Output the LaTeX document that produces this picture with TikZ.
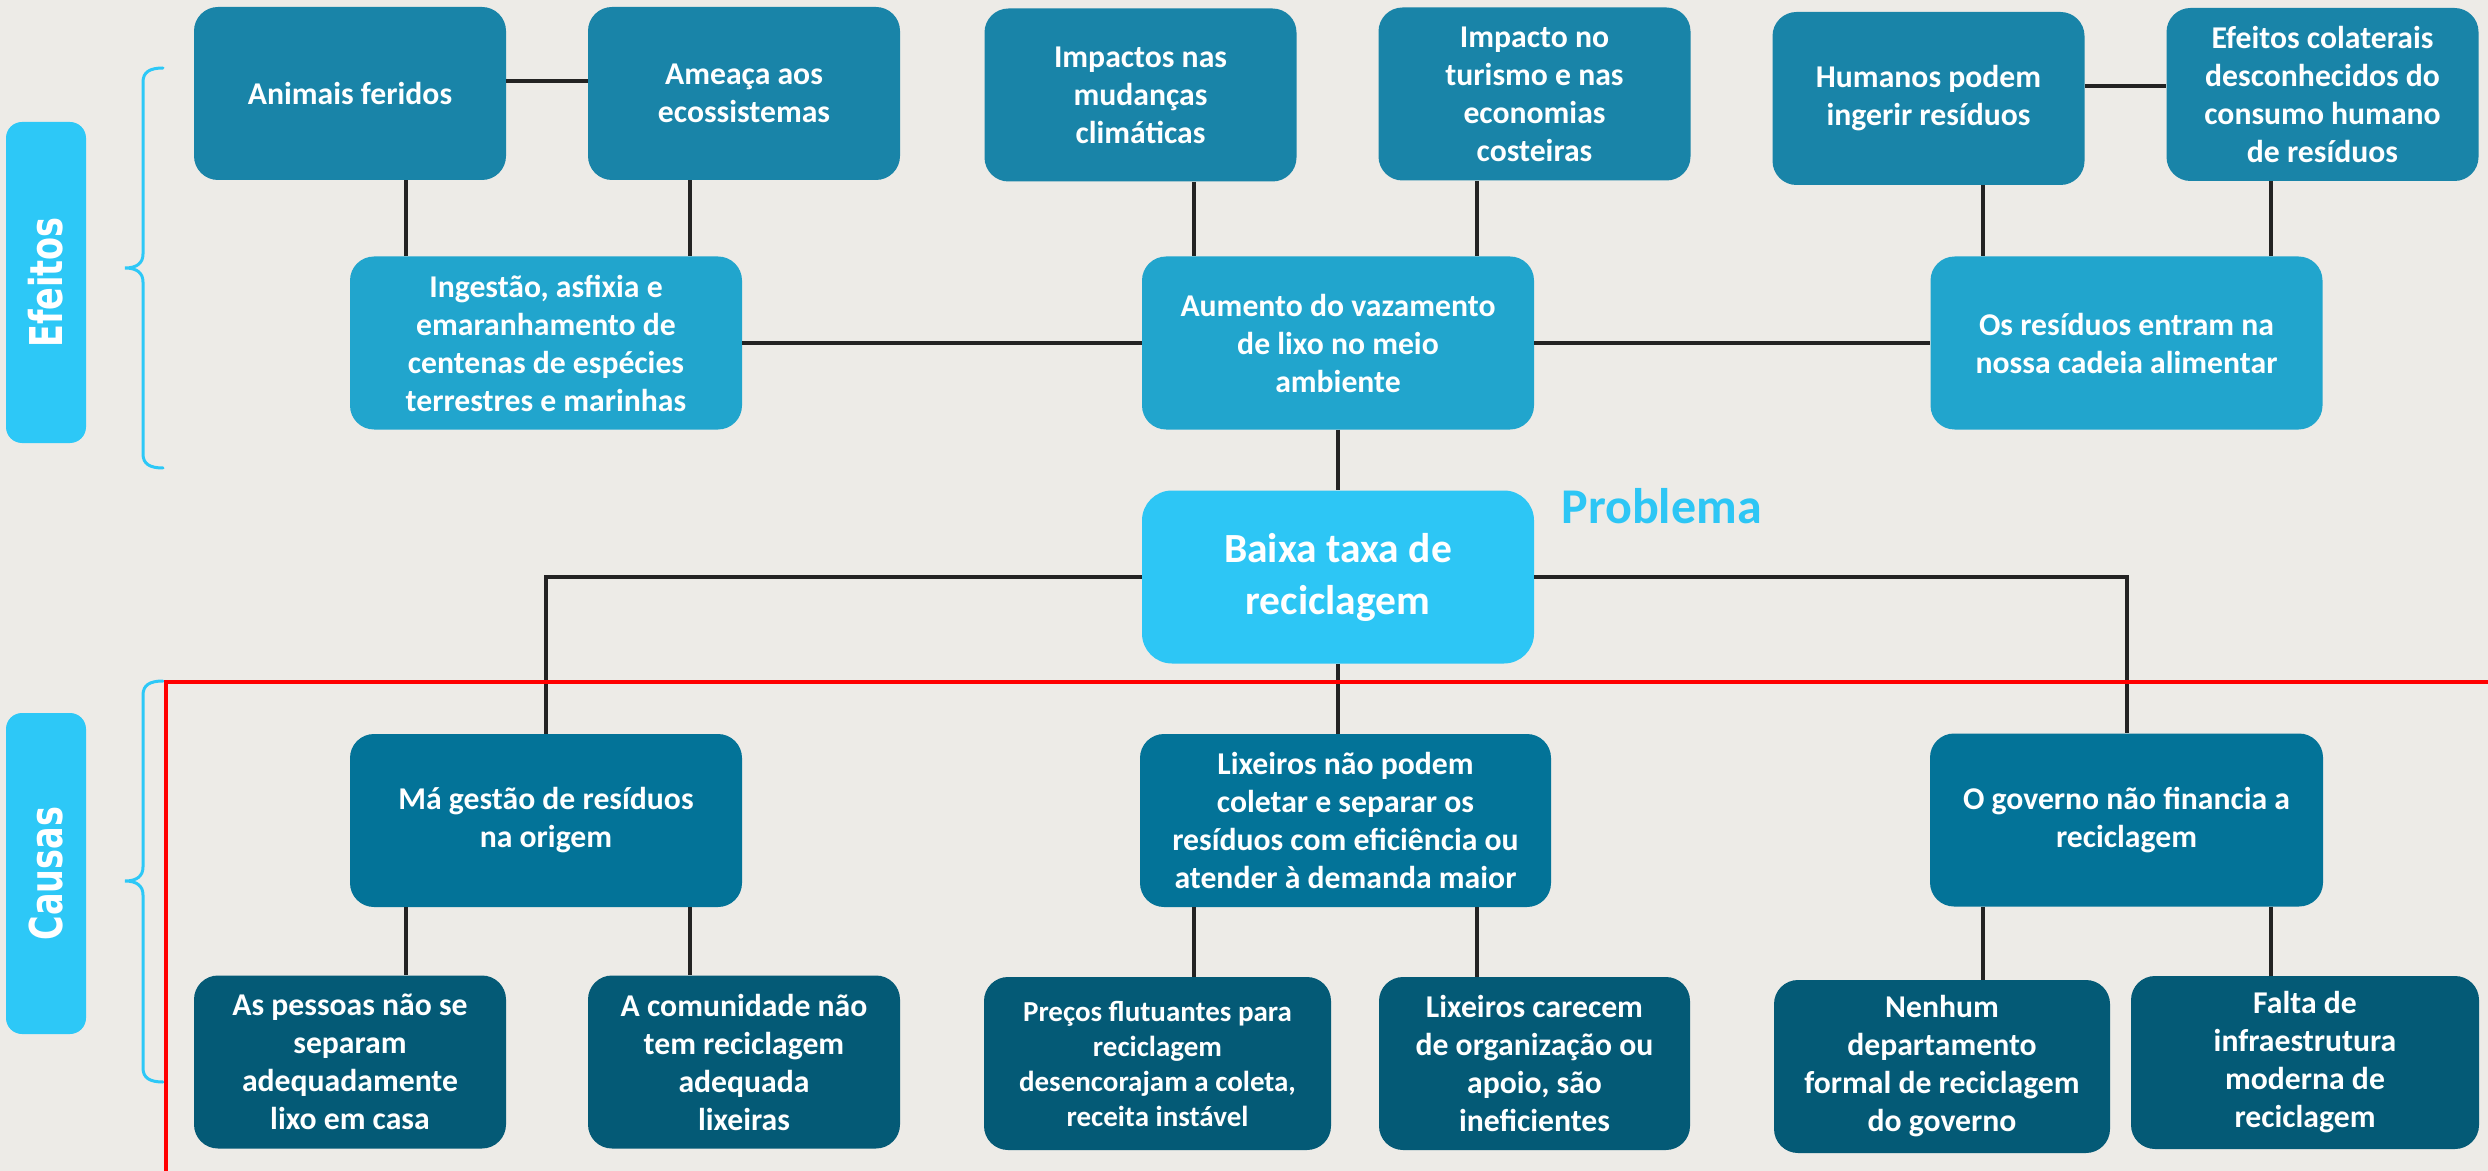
\documentclass[tikz,border=0pt]{standalone}
\usepackage{graphicx}
\usepackage{fontspec}
\setmainfont{Carlito}
\newfontfamily\lblfont{DejaVu Sans}
\usetikzlibrary{calc}
\definecolor{bgcol}{RGB}{237,235,231}
\definecolor{topcol}{RGB}{25,132,168}
\definecolor{midcol}{RGB}{33,165,205}
\definecolor{probcol}{RGB}{45,198,245}
\definecolor{causecol}{RGB}{3,115,152}
\definecolor{rootcol}{RGB}{4,90,118}
\definecolor{lblcol}{RGB}{45,200,247}
\definecolor{linecol}{RGB}{35,35,35}
\definecolor{redcol}{RGB}{255,0,0}
\tikzset{
  box/.style={rounded corners=12pt, inner sep=0pt, align=center, text=white,
    font=\fontsize{15.85}{19}\selectfont\bfseries, minimum height=86.5pt},
  topbox/.style={box, fill=topcol, minimum width=156pt},
  midbox/.style={box, fill=midcol, minimum width=196pt},
  probbox/.style={box, fill=probcol, minimum width=196pt, rounded corners=15pt,
    font=\fontsize{20.75}{26}\selectfont\bfseries},
  causebox/.style={box, fill=causecol},
  rootbox/.style={box, fill=rootcol},
  lblbox/.style={rounded corners=8pt, fill=lblcol, inner sep=0pt, text=white,
    minimum width=160.5pt, minimum height=40pt, rotate=90,
    font=\lblfont\fontsize{16.75}{20}\selectfont\bfseries},
  conn/.style={draw=linecol, line width=1.6pt},
  connh/.style={draw=linecol, line width=2pt},
  bracestyle/.style={draw=lblcol, line width=1.5pt, line cap=round},
  redline/.style={draw=redcol, line width=2pt},
}
\begin{document}
\begin{tikzpicture}[x=0.5pt,y=-0.5pt]
\useasboundingbox (0,0) rectangle (2488,1171);
\fill[bgcol] (0,0) rectangle (2488,1171);

% labels
\node[lblbox] (ef) at (46,282.5) {\scalebox{1}[1.35]{Efeitos}};
\node[lblbox] (ca) at (46,873.5) {\scalebox{1}[1.35]{Causas}};

% braces
\draw[bracestyle] (163,68) .. controls (150,68) and (143,72) .. (143,82) -- (143,254)
  .. controls (143,263) and (137,268) .. (125,268)
  .. controls (137,268) and (143,273) .. (143,282) -- (143,454)
  .. controls (143,464) and (150,468) .. (163,468);
\draw[bracestyle] (163,681) .. controls (150,681) and (143,685) .. (143,695) -- (143,867)
  .. controls (143,876) and (137,881) .. (125,881)
  .. controls (137,881) and (143,886) .. (143,895) -- (143,1068)
  .. controls (143,1078) and (150,1082) .. (163,1082);

% top row
\node[topbox] (a1) at (350,93.5) {Animais feridos};
\node[topbox] (a2) at (744,93.5) {Ameaça aos\\ecossistemas};
\node[topbox] (a3) at (1140.5,95) {Impactos nas\\mudanças\\climáticas};
\node[topbox] (a4) at (1534.5,94) {Impacto no\\turismo e nas\\economias\\costeiras};
\node[topbox] (a5) at (1928.5,98.5) {Humanos podem\\ingerir resíduos};
\node[topbox] (a6) at (2322.5,94.5) {Efeitos colaterais\\desconhecidos do\\consumo humano\\de resíduos};

% second row
\node[midbox] (b1) at (546,343) {Ingestão, asfixia e\\emaranhamento de\\centenas de espécies\\terrestres e marinhas};
\node[midbox] (b2) at (1338,343) {Aumento do vazamento\\de lixo no meio\\ambiente};
\node[midbox] (b3) at (2126.5,343) {Os resíduos entram na\\nossa cadeia alimentar};

% problem
\node[probbox] (p) at (1338,577) {Baixa taxa de\\reciclagem};
\node[anchor=base west, inner sep=0pt, text=probcol, font=\fontsize{25}{30}\selectfont\bfseries] (prob) at (1561,523) {Problema};

% causes
\node[causebox, minimum width=196pt] (c1) at (546,820.5) {Má gestão de resíduos\\na origem};
\node[causebox, minimum width=205.5pt] (c2) at (1345.5,820.5) {Lixeiros não podem\\coletar e separar os\\resíduos com eficiência ou\\atender à demanda maior};
\node[causebox, minimum width=196.5pt] (c3) at (2126.5,820) {O governo não financia a\\reciclagem};

% root causes
\node[rootbox, minimum width=156pt] (d1) at (350,1062) {As pessoas não se\\separam\\adequadamente\\lixo em casa};
\node[rootbox, minimum width=156pt] (d2) at (744,1062) {A comunidade não\\tem reciclagem\\adequada\\lixeiras};
\node[rootbox, minimum width=173.5pt, font=\fontsize{14.5}{17.5}\selectfont\bfseries] (d3) at (1157.5,1063.5) {Preços flutuantes para\\reciclagem\\desencorajam a coleta,\\receita instável};
\node[rootbox, minimum width=155.5pt] (d4) at (1534.5,1063.5) {Lixeiros carecem\\de organização ou\\apoio, são\\ineficientes};
\node[rootbox, minimum width=168pt] (d5) at (1942,1066.5) {Nenhum\\departamento\\formal de reciclagem\\do governo};
\node[rootbox, minimum width=174pt] (d6) at (2305,1062.5) {Falta de\\infraestrutura\\moderna de\\reciclagem};

% connectors: effects
\draw[connh] ([yshift=6pt]a1.east) -- ([yshift=6pt]a1.east -| a2.west);
\draw[connh] ([yshift=6pt]a5.east) -- ([yshift=6pt]a5.east -| a6.west);
\draw[conn] ([xshift=28pt]a1.south) -- ([xshift=28pt]a1.south |- b1.north);
\draw[conn] ([xshift=-27pt]a2.south) -- ([xshift=-27pt]a2.south |- b1.north);
\draw[conn] ([xshift=26.75pt]a3.south) -- ([xshift=26.75pt]a3.south |- b2.north);
\draw[conn] ([xshift=-28.75pt]a4.south) -- ([xshift=-28.75pt]a4.south |- b2.north);
\draw[conn] ([xshift=27.25pt]a5.south) -- ([xshift=27.25pt]a5.south |- b3.north);
\draw[conn] ([xshift=-25.75pt]a6.south) -- ([xshift=-25.75pt]a6.south |- b3.north);
\draw[connh] (b1.east) -- (b2.west);
\draw[connh] (b2.east) -- (b3.west);
\draw[conn] (b2.south) -- (p.north);

% connectors: causes
\draw[connh] (p.west) -| (c1.north);
\draw[connh] (p.east) -| (c3.north);
\draw[conn] (p.south) -- (p.south |- c2.north);
\draw[conn] ([xshift=-70pt]c1.south) -- ([xshift=-70pt]c1.south |- d1.north);
\draw[conn] ([xshift=72pt]c1.south) -- ([xshift=72pt]c1.south |- d2.north);
\draw[conn] ([xshift=-75.75pt]c2.south) -- ([xshift=-75.75pt]c2.south |- d3.north);
\draw[conn] ([xshift=65.75pt]c2.south) -- ([xshift=65.75pt]c2.south |- d4.north);
\draw[conn] ([xshift=-71.75pt]c3.south) -- ([xshift=-71.75pt]c3.south |- d5.north);
\draw[conn] ([xshift=72.25pt]c3.south) -- ([xshift=72.25pt]c3.south |- d6.north);

% red frame
\coordinate (r1) at (166,1171);
\coordinate (r2) at (166,682);
\coordinate (r3) at (2488,682);
\draw[redline] (r1) -- (r2) -- (r3);
\end{tikzpicture}
\end{document}
